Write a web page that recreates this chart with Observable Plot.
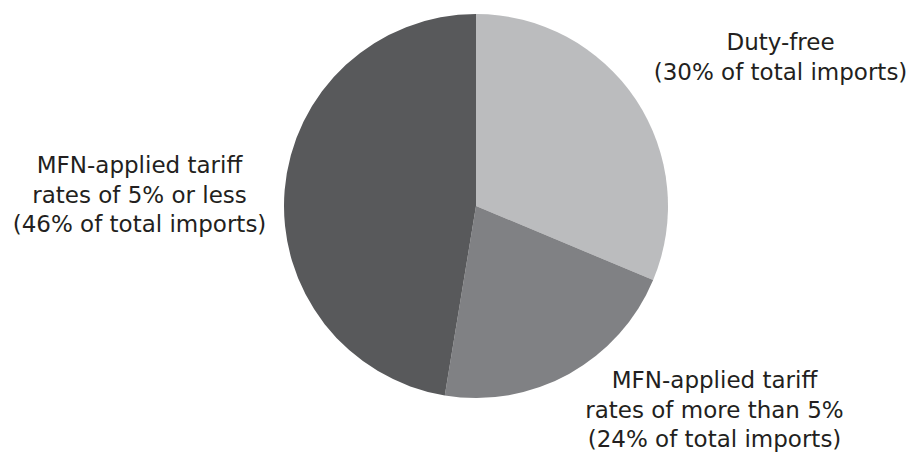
<!DOCTYPE html>
<html>
<head>
<meta charset="utf-8">
<script src="https://cdn.jsdelivr.net/npm/d3@7"></script>
<script src="https://cdn.jsdelivr.net/npm/@observablehq/plot@0.6"></script>
<style>
  html, body { margin: 0; padding: 0; background: #fff; }
</style>
</head>
<body>
<div id="chart"></div>
<script>
// Slice categories (clockwise from 12 o'clock)
const categories = ["Duty-free", "MFN-applied tariff rates of more than 5%", "MFN-applied tariff rates of 5% or less"];
// Slice shares as drawn in the picture (percent of total imports)
const shares = [31.3, 21.3, 47.4];
// Label texts
const labels = [
  "Duty-free\n(30% of total imports)",
  "MFN-applied tariff\nrates of more than 5%\n(24% of total imports)",
  "MFN-applied tariff\nrates of 5% or less\n(46% of total imports)"
];
const colors = ["#bbbcbe", "#808184", "#58595b"];

// Layout (pixel-like coordinate space)
const W = 915, H = 454;
const center = {x: 476, y: 206}, radius = 192;
const labelPos = [
  {x: 780, y: 55},
  {x: 714, y: 408},
  {x: 139, y: 193}
];

const data = categories.map((c, i) => ({category: c, share: shares[i], label: labels[i], color: colors[i], lx: labelPos[i].x, ly: labelPos[i].y}));

function pieMark(index, scales, values, dimensions) {
  const cx = scales.x(center.x), cy = scales.y(center.y);
  const r = Math.abs(scales.x(center.x + radius) - cx);
  const arcs = d3.pie().sort(null).value(d => d.share).startAngle(0).endAngle(2 * Math.PI)(data);
  const arc = d3.arc().innerRadius(0).outerRadius(r);
  const g = d3.create("svg:g").attr("transform", `translate(${cx},${cy})`);
  g.selectAll("path").data(arcs).join("path")
    .attr("d", arc)
    .attr("fill", d => d.data.color)
    .attr("stroke", "none");
  return g.node();
}

const chart = Plot.plot({
  width: W,
  height: H,
  margin: 0,
  x: {domain: [0, W], range: [0, W], axis: null},
  y: {domain: [0, H], range: [0, H], axis: null},
  style: {fontFamily: "'DejaVu Sans', sans-serif", background: "#fff"},
  marks: [
    pieMark,
    Plot.text(data, {
      x: "lx", y: "ly", text: "label",
      fontSize: 23, lineHeight: 1.28, fill: "#231f20",
      textAnchor: "middle", lineAnchor: "middle"
    })
  ]
});
document.getElementById("chart").appendChild(chart);
</script>
</body>
</html>
